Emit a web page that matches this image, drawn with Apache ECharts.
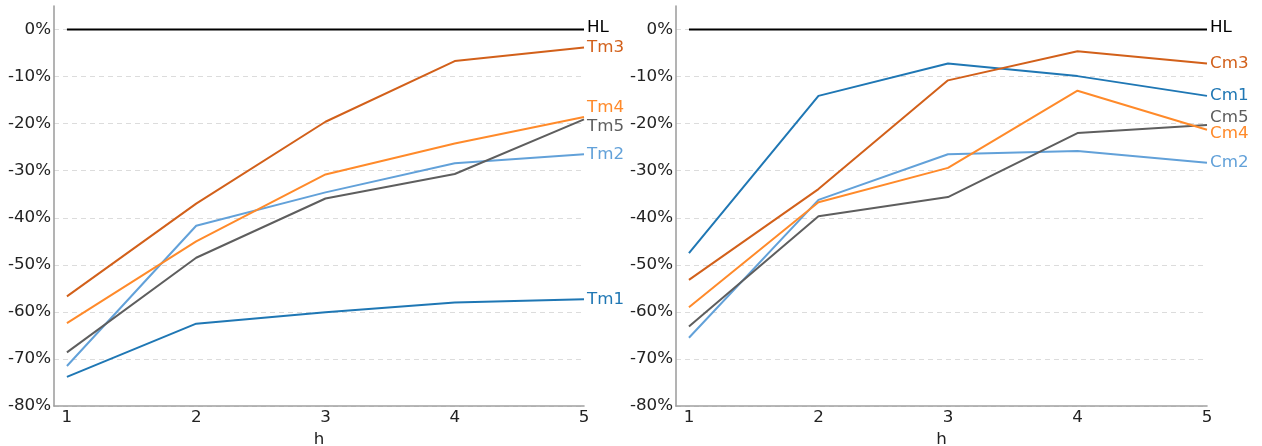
<!DOCTYPE html>
<html>
<head>
<meta charset="utf-8">
<script src="https://cdn.jsdelivr.net/npm/echarts@6/dist/echarts.min.js"></script>
<style>
html,body{margin:0;padding:0;background:#fff;}
#c{width:1262px;height:446px;}
</style>
</head>
<body>
<div id="c"></div>
<script>
// ---- data ----
const hSteps = [1, 2, 3, 4, 5];
const yTicks = [-80, -70, -60, -50, -40, -30, -20, -10, 0];

const HL  = [0, 0, 0, 0, 0];
const Tm1 = [-73.8, -62.5, -60.1, -58.0, -57.3];
const Tm2 = [-71.5, -41.7, -34.6, -28.4, -26.5];
const Tm3 = [-56.7, -37.0, -19.6, -6.7, -3.8];
const Tm4 = [-62.4, -45.0, -30.8, -24.2, -18.6];
const Tm5 = [-68.6, -48.5, -35.9, -30.7, -19.1];

const Cm1 = [-47.5, -14.1, -7.2, -9.9, -14.1];
const Cm2 = [-65.5, -36.2, -26.5, -25.8, -28.3];
const Cm3 = [-53.2, -33.9, -10.8, -4.6, -7.2];
const Cm4 = [-59.0, -36.7, -29.4, -13.0, -21.3];
const Cm5 = [-63.1, -39.7, -35.6, -22.0, -20.3];

// ---- styles ----
const FONT = 'DejaVu Sans';
const FS = 16.7;
const colors = {
  HL: '#000000',
  m1: '#1f77b4',
  m2: '#62a1d9',
  m3: '#d2601a',
  m4: '#ff8a2a',
  m5: '#5e5e5e'
};

function mkSeries(name, vals, color, idx, dy) {
  return {
    name: name,
    type: 'line',
    xAxisIndex: idx,
    yAxisIndex: idx,
    data: hSteps.map((h, i) => [h, vals[i]]),
    showSymbol: false,
    symbol: 'none',
    lineStyle: { color: color, width: 2 },
    itemStyle: { color: color },
    emphasis: { disabled: true },
    endLabel: {
      show: true,
      formatter: name,
      color: color,
      fontFamily: FONT,
      fontSize: FS,
      distance: 3,
      offset: [0, dy || 0]
    }
  };
}

function mkX(idx) {
  return {
    type: 'value',
    gridIndex: idx,
    min: 0.9,
    max: 5,
    splitNumber: 4,
    minInterval: 1,
    name: 'h',
    nameLocation: 'middle',
    nameGap: 18,
    nameTextStyle: { color: '#222', fontFamily: FONT, fontSize: FS },
    axisLine: { show: true, onZero: false, lineStyle: { color: '#a0a0a0', width: 1.6 } },
    axisTick: { show: false },
    splitLine: { show: false },
    axisLabel: {
      showMinLabel: false,
      margin: 3,
      color: '#222',
      fontFamily: FONT,
      fontSize: FS,
      formatter: v => (hSteps.indexOf(v) >= 0 ? String(v) : '')
    }
  };
}

function mkY(idx) {
  return {
    type: 'value',
    gridIndex: idx,
    min: yTicks[0],
    max: 5,
    interval: 10,
    axisLine: { show: true, onZero: false, lineStyle: { color: '#a0a0a0', width: 1.6 } },
    axisTick: { show: false },
    splitLine: {
      show: true,
      showMaxLine: false,
      lineStyle: { color: '#dcdcdc', type: [5, 4], width: 1 }
    },
    axisLabel: {
      showMaxLabel: false,
      margin: 3,
      color: '#222',
      fontFamily: FONT,
      fontSize: FS,
      formatter: v => (yTicks.indexOf(v) >= 0 ? v + '%' : '')
    }
  };
}

const chart = echarts.init(document.getElementById('c'), null, { renderer: 'canvas' });
chart.setOption({
  animation: false,
  backgroundColor: '#ffffff',
  grid: [
    { left: 54, right: 678, top: 6, bottom: 40, containLabel: false, outerBoundsMode: 'none' },
    { left: 676, right: 55, top: 6, bottom: 40, containLabel: false, outerBoundsMode: 'none' }
  ],
  xAxis: [mkX(0), mkX(1)],
  yAxis: [mkY(0), mkY(1)],
  series: [
    mkSeries('HL', HL, colors.HL, 0, -2),
    mkSeries('Tm1', Tm1, colors.m1, 0, 0),
    mkSeries('Tm2', Tm2, colors.m2, 0, 0),
    mkSeries('Tm3', Tm3, colors.m3, 0, 0),
    mkSeries('Tm5', Tm5, colors.m5, 0, 7),
    mkSeries('Tm4', Tm4, colors.m4, 0, -9),
    mkSeries('HL', HL, colors.HL, 1, -2),
    mkSeries('Cm1', Cm1, colors.m1, 1, 0),
    mkSeries('Cm2', Cm2, colors.m2, 1, 0),
    mkSeries('Cm3', Cm3, colors.m3, 1, 0),
    mkSeries('Cm5', Cm5, colors.m5, 1, -7),
    mkSeries('Cm4', Cm4, colors.m4, 1, 4)
  ]
});
</script>
</body>
</html>
